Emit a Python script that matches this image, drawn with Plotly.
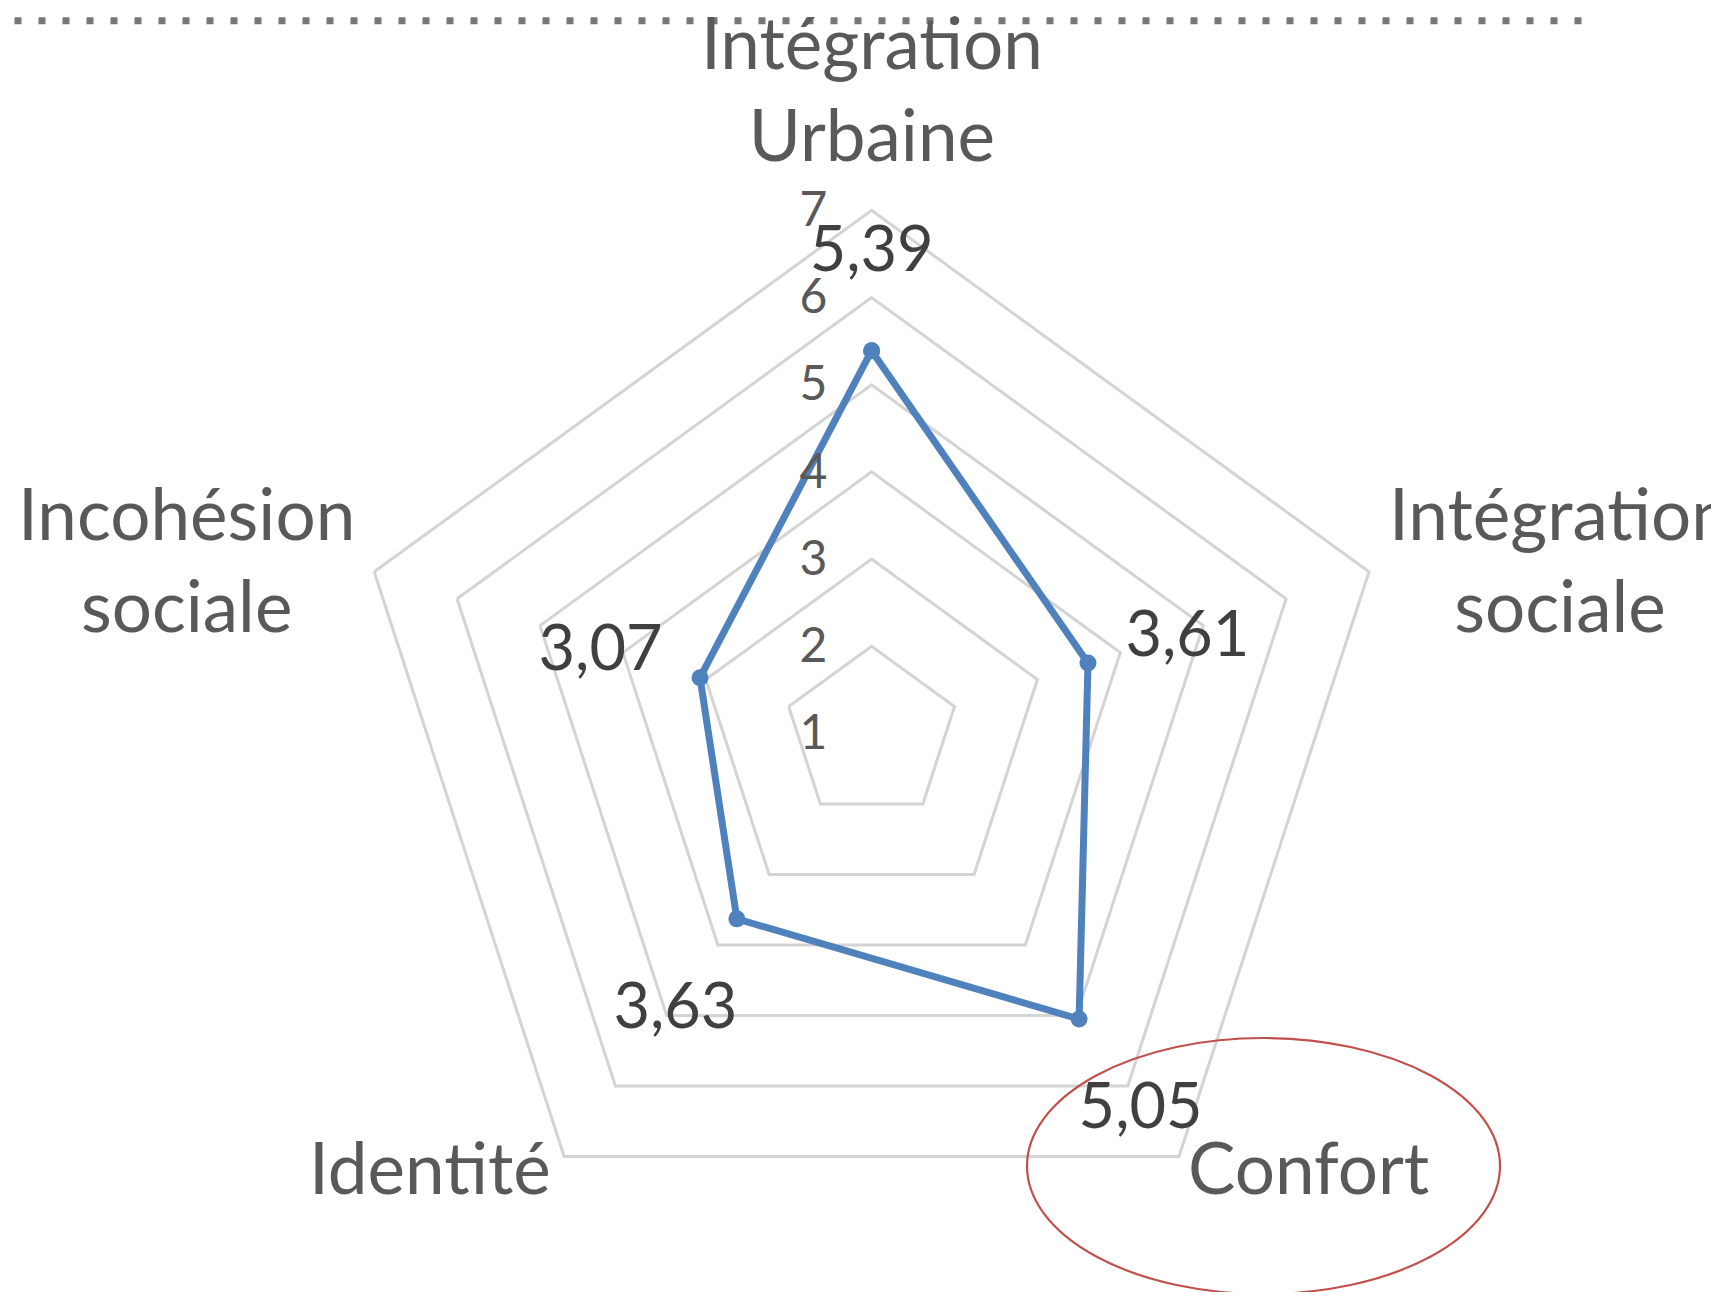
import plotly.graph_objects as go

# radar data
categories = ['Intégration Urbaine', 'Intégration sociale', 'Confort', 'Identité', 'Incohésion sociale']
scores = [5.39, 3.61, 5.05, 3.63, 3.07]
radial_ticks = [1, 2, 3, 4, 5, 6, 7]

# category labels as they are broken in the chart
cat_labels = ['Intégration<br>Urbaine', 'Intégration<br>sociale', 'Confort', 'Identité', 'Incohésion<br>sociale']

W, H = 1719, 1292
OFF = 8  # page body margin
BLUE = '#4F81BD'
GRID = '#D4D4D4'
FONT = 'Lato'


def px(x):
    return (x - OFF) / W


def py(y):
    return 1 - (y - OFF) / H


score_text = [f'{v:.2f}'.replace('.', ',') for v in scores]
label_r = [v + 1.2 for v in scores]

fig = go.Figure()
fig.add_trace(go.Scatterpolar(
    r=scores + scores[:1], theta=categories + categories[:1],
    mode='lines+markers',
    line=dict(color=BLUE, width=7),
    marker=dict(color=BLUE, size=17),
    hoverinfo='skip', showlegend=False))
# value labels sit on a twin polar nudged a few px down
fig.add_trace(go.Scatterpolar(
    r=label_r, theta=categories, mode='text', text=score_text,
    textfont=dict(family=FONT, size=63, color='#404040'),
    hoverinfo='skip', showlegend=False, subplot='polar2'))

# category label placement (pixel centres)
cat_pos = [(871.6, 87), (1560, 558), (1308, 1166), (430, 1166), (186, 558)]
annotations = [
    dict(text=t, x=px(x), y=py(y), xref='paper', yref='paper', showarrow=False,
         xanchor='center', yanchor='middle', align='center',
         font=dict(family=FONT, size=71, color='#595959'))
    for t, (x, y) in zip(cat_labels, cat_pos)
]

ang = dict(direction='clockwise', rotation=90, showgrid=False, ticks='', showticklabels=False)
NUDGE = 9

fig.update_layout(
    width=W, height=H,
    margin=dict(l=0, r=0, t=0, b=0),
    paper_bgcolor='white', plot_bgcolor='white',
    font=dict(family=FONT, color='#595959'),
    annotations=annotations,
    polar=dict(
        domain=dict(x=[px(348.6), px(1394.6)], y=[py(1256.4), py(210.4)]),
        bgcolor='white',
        gridshape='linear',
        radialaxis=dict(range=[1, 7], tickvals=radial_ticks, angle=90, side='counterclockwise',
                        showline=False, gridcolor=GRID, gridwidth=3,
                        ticks='outside', ticklen=27, tickcolor='rgba(0,0,0,0)',
                        tickangle=90,
                        tickfont=dict(family=FONT, size=48, color='#595959')),
        angularaxis=dict(**ang, showline=True, linecolor=GRID, linewidth=3),
    ),
    polar2=dict(
        domain=dict(x=[px(348.6), px(1394.6)], y=[py(1256.4 + NUDGE), py(210.4 + NUDGE)]),
        bgcolor='rgba(0,0,0,0)',
        gridshape='linear',
        radialaxis=dict(range=[1, 7], visible=False),
        angularaxis=dict(**ang, showline=False),
    ),
    shapes=[
        dict(type='line', xref='paper', yref='paper', x0=px(14.5), x1=px(1588), y0=py(20.7), y1=py(20.7),
             line=dict(color='#777777', width=7, dash='7px,17px')),
        dict(type='circle', xref='paper', yref='paper', x0=px(1027), x1=px(1500), y0=py(1038), y1=py(1294),
             line=dict(color='#C0504D', width=2.2)),
    ],
)

fig.write_html('out.html')
